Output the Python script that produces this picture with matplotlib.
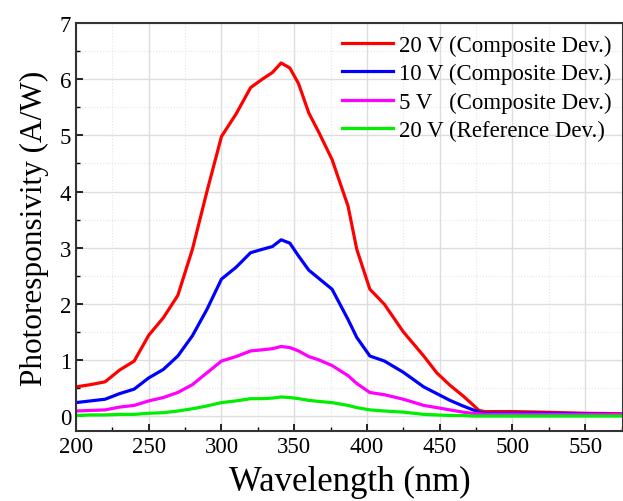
import numpy as np
import matplotlib.pyplot as plt
from matplotlib.ticker import MultipleLocator

plt.rcParams['font.family'] = ['Liberation Serif', 'DejaVu Serif']

# Wavelength (nm)
wl = [200, 210, 220, 230, 240, 250, 260, 270, 280, 290, 300, 310, 320, 328, 335,
      341, 347, 353, 360, 367, 376, 387, 393, 402, 412, 425, 439, 448, 457, 466,
      472, 477, 481, 490, 500, 520, 550, 576]

# Photoresponsivity (A/W)
red_20v = [0.52, 0.56, 0.61, 0.82, 0.98, 1.44, 1.75, 2.15, 2.97, 4.0, 4.98, 5.38, 5.85, 6.0, 6.12,
           6.29, 6.2, 5.92, 5.4, 5.05, 4.57, 3.74, 2.97, 2.26, 1.99, 1.5, 1.07, 0.77, 0.55, 0.36,
           0.22, 0.1, 0.08, 0.08, 0.08, 0.07, 0.05, 0.04]
blue_10v = [0.24, 0.27, 0.3, 0.4, 0.48, 0.68, 0.83, 1.07, 1.43, 1.9, 2.44, 2.65, 2.91, 2.97, 3.02,
            3.14, 3.08, 2.85, 2.6, 2.45, 2.26, 1.72, 1.4, 1.07, 0.98, 0.78, 0.52, 0.4, 0.28, 0.18,
            0.12, 0.07, 0.05, 0.05, 0.05, 0.05, 0.04, 0.03]
mag_5v = [0.09, 0.1, 0.11, 0.16, 0.19, 0.27, 0.33, 0.42, 0.56, 0.77, 0.98, 1.06, 1.16, 1.18, 1.2,
          1.24, 1.22, 1.16, 1.06, 1.0, 0.9, 0.72, 0.58, 0.42, 0.38, 0.3, 0.19, 0.15, 0.11, 0.07,
          0.05, 0.04, 0.03, 0.03, 0.03, 0.03, 0.03, 0.03]
green_ref = [0.01, 0.02, 0.02, 0.03, 0.03, 0.05, 0.06, 0.09, 0.13, 0.18, 0.24, 0.27, 0.31, 0.31, 0.32,
             0.34, 0.33, 0.31, 0.28, 0.26, 0.24, 0.19, 0.15, 0.11, 0.09, 0.07, 0.03, 0.02, 0.01, 0.01,
             0.0, 0.0, 0.0, 0.0, 0.0, 0.0, 0.0, 0.0]

labels = ['20 V (Composite Dev.)', '10 V (Composite Dev.)',
          '5 V   (Composite Dev.)', '20 V (Reference Dev.)']
colors = ['#ff0000', '#0000ff', '#ff00ff', '#00ee00']

fig = plt.figure(figsize=(6.23, 5.02), dpi=100)
ax = fig.add_axes([0.122, 0.139, 0.878, 0.813])

for y, lab, c in zip([red_20v, blue_10v, mag_5v, green_ref], labels, colors):
    ax.plot(wl, y, color=c, lw=2.3, label=lab, solid_joinstyle='round')

ax.set_xlim(200, 576)
ax.set_ylim(-0.27, 7)
ax.xaxis.set_major_locator(MultipleLocator(50))
ax.xaxis.set_minor_locator(MultipleLocator(25))
ax.yaxis.set_major_locator(MultipleLocator(1))
ax.yaxis.set_minor_locator(MultipleLocator(0.5))
ax.grid(which='major', color='#dddddd', lw=1.0)
ax.grid(which='minor', color='#e4e4e4', lw=0.8, linestyle=':')
ax.set_axisbelow(True)
ax.tick_params(which='both', direction='in', labelsize=16.5, top=False, right=False)
ax.tick_params(which='major', length=5, width=1.2)
ax.tick_params(which='minor', length=3, width=1.0)
for s in ax.spines.values():
    s.set_linewidth(1.5)
    s.set_color('#333333')

ax.set_xlabel('Wavelength (nm)', fontsize=25, labelpad=6)
ax.set_ylabel('Photoresponsivity (A/W)', fontsize=22.5, labelpad=8)

ax.legend(loc='upper right', frameon=False, fontsize=16.5, handlelength=2.25,
          handletextpad=0.25, labelspacing=0.32, borderaxespad=0.1,
          bbox_to_anchor=(1.0, 1.0))

fig.savefig('out.png', dpi=100)
